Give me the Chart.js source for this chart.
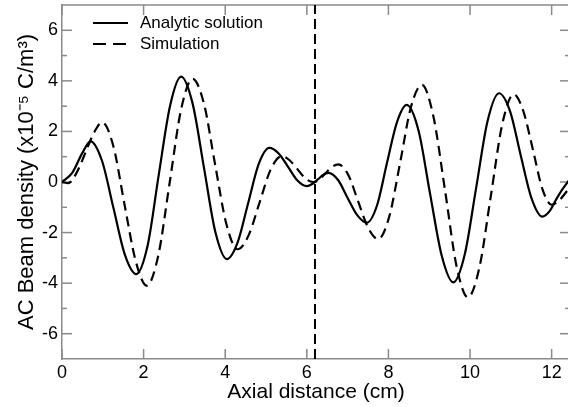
<!DOCTYPE html>
<html lang="en">
<head>
    <meta charset="UTF-8">
    <title>AC Beam density</title>
    <script src="https://cdn.jsdelivr.net/npm/chart.js"></script>
    <style>
        html, body { margin: 0; padding: 0; background: #fff; overflow: hidden; }
        #wrap { width: 574px; height: 407px; }
    </style>
</head>
<body>
    <div id="wrap"><canvas id="grafico" width="574" height="407"></canvas></div>

    <script>
        // Analytic solution (x in cm, y in 1e-5 C/m^3)
        const analyticX = [0, 0.25, 0.5, 0.70, 0.98, 1.26, 1.54, 1.82, 2.10, 2.37, 2.65, 2.92,
            3.20, 3.48, 3.76, 4.04, 4.30, 4.56, 4.82, 5.08, 5.31, 5.54, 5.77, 6.00,
            6.13, 6.27, 6.40, 6.53, 6.77, 7.00, 7.24, 7.47, 7.72, 7.96, 8.21, 8.45,
            8.74, 9.02, 9.31, 9.59, 9.87, 10.15, 10.43, 10.71, 10.98, 11.24, 11.51, 11.77,
            11.95, 12.10, 12.25, 12.45];
        const analyticY = [0, 0.36, 1.15, 1.61, 0.84, -1.02, -2.87, -3.64, -2.50, 0.27, 3.03, 4.17,
            3.11, 0.56, -1.99, -3.05, -2.41, -0.85, 0.71, 1.35, 1.13, 0.60, 0.06, -0.16,
            -0.08, 0.10, 0.28, 0.36, 0.07, -0.63, -1.32, -1.61, -0.93, 0.72, 2.37, 3.05,
            2.02, -0.46, -2.94, -3.97, -2.87, -0.23, 2.41, 3.51, 2.80, 1.07, -0.66, -1.37,
            -1.15, -0.72, -0.32, 0.12];

        // Simulation
        const simX = [0, 0.15, 0.30, 0.45, 0.62, 0.80, 0.98, 1.26, 1.53, 1.81, 2.08, 2.36, 2.64, 2.92,
            3.20, 3.48, 3.75, 4.03, 4.30, 4.57, 4.84, 5.11, 5.38, 5.57, 5.77, 5.96, 6.15,
            6.31, 6.46, 6.62, 6.77, 7.02, 7.26, 7.51, 7.75, 8.02, 8.29, 8.55, 8.82,
            9.10, 9.39, 9.67, 9.95, 10.23, 10.51, 10.79, 11.07, 11.30, 11.54, 11.77, 12.00,
            12.20, 12.45];
        const simY = [0, -0.05, 0.20, 0.68, 1.35, 2.00, 2.36, 1.41, -0.87, -3.15, -4.10, -2.90, -0.01, 2.88,
            4.08, 3.09, 0.71, -1.67, -2.66, -2.12, -0.82, 0.48, 1.02, 0.87, 0.51, 0.15, 0.00,
            0.10, 0.35, 0.60, 0.70, 0.27, -0.78, -1.83, -2.26, -1.37, 0.79, 2.95, 3.84,
            2.61, -0.36, -3.33, -4.56, -3.38, -0.55, 2.29, 3.47, 2.83, 1.29, -0.26, -0.90,
            -0.70, -0.20];

        const marcadorX = 6.2;
        const xTicks = [0, 2, 4, 6, 8, 10, 12];
        const yTicks = [-6, -4, -2, 0, 2, 4, 6];
        const yMinor = [-5, -3, -1, 1, 3, 5];

        const corEixo = '#8a8a8a';
        Chart.defaults.font.family = '"Liberation Sans", Arial, Helvetica, sans-serif';
        Chart.defaults.color = '#000';

        const pontos = (xs, ys) => xs.map((v, i) => ({ x: v, y: ys[i] }));

        function linha(ctx, x1, y1, x2, y2) {
            ctx.beginPath();
            ctx.moveTo(x1, y1);
            ctx.lineTo(x2, y2);
            ctx.stroke();
        }

        // ticks pointing inward, plus top/right frame
        const marcasInternas = {
            id: 'marcasInternas',
            beforeDatasetsDraw(chart) {
                const { ctx, chartArea: a, scales: { x, y } } = chart;
                ctx.save();
                ctx.strokeStyle = corEixo;
                ctx.lineWidth = 1.5;
                linha(ctx, a.left, a.top, a.right, a.top);
                linha(ctx, a.right, a.top, a.right, a.bottom);
                xTicks.forEach(v => {
                    const px = x.getPixelForValue(v);
                    linha(ctx, px, a.bottom, px, a.bottom - 10);
                    linha(ctx, px, a.top, px, a.top + 10);
                });
                yTicks.forEach(v => {
                    const py = y.getPixelForValue(v);
                    linha(ctx, a.left, py, a.left + 10, py);
                    linha(ctx, a.right, py, a.right - 10, py);
                });
                yMinor.forEach(v => {
                    const py = y.getPixelForValue(v);
                    linha(ctx, a.left, py, a.left + 5, py);
                    linha(ctx, a.right, py, a.right - 5, py);
                });
                ctx.restore();
            }
        };

        // legend inside the plot, top-left
        const legendaInterna = {
            id: 'legendaInterna',
            afterDraw(chart) {
                const { ctx } = chart;
                const linhas = [
                    { ds: chart.data.datasets[0], y: 23, dash: [] },
                    { ds: chart.data.datasets[1], y: 44, dash: [13, 7] }
                ];
                ctx.save();
                ctx.font = '17px "Liberation Sans", Arial, Helvetica, sans-serif';
                ctx.textBaseline = 'middle';
                ctx.fillStyle = '#000';
                linhas.forEach(l => {
                    ctx.strokeStyle = l.ds.borderColor;
                    ctx.lineWidth = l.ds.borderWidth;
                    ctx.setLineDash(l.dash);
                    linha(ctx, 93, l.y, 128, l.y);
                    ctx.setLineDash([]);
                    ctx.fillText(l.ds.label, 140, l.y);
                });
                ctx.restore();
            }
        };

        new Chart(document.getElementById('grafico').getContext('2d'), {
            type: 'line',
            data: {
                datasets: [
                    {
                        label: 'Analytic solution',
                        data: pontos(analyticX, analyticY),
                        borderColor: '#000',
                        borderWidth: 2.2,
                        pointRadius: 0,
                        cubicInterpolationMode: 'monotone',
                        fill: false
                    },
                    {
                        label: 'Simulation',
                        data: pontos(simX, simY),
                        borderColor: '#000',
                        borderWidth: 2.2,
                        borderDash: [10, 6],
                        pointRadius: 0,
                        cubicInterpolationMode: 'monotone',
                        fill: false
                    },
                    {
                        label: 'marker',
                        data: [{ x: marcadorX, y: -7 }, { x: marcadorX, y: 7 }],
                        borderColor: '#000',
                        borderWidth: 2,
                        borderDash: [10, 5],
                        pointRadius: 0,
                        tension: 0,
                        fill: false
                    }
                ]
            },
            options: {
                responsive: false,
                animation: false,
                devicePixelRatio: 1,
                layout: { padding: { top: 5, right: 4, left: 0, bottom: 0 } },
                plugins: {
                    legend: { display: false },
                    tooltip: { enabled: false }
                },
                scales: {
                    x: {
                        type: 'linear',
                        min: 0,
                        max: 12.45,
                        grid: { display: false, drawTicks: false },
                        border: { display: true, color: corEixo, width: 1.5 },
                        ticks: { font: { size: 18 }, padding: 3, maxRotation: 0 },
                        afterBuildTicks: s => { s.ticks = xTicks.map(v => ({ value: v })); },
                        afterFit: s => { s.height = 48; s.paddingLeft = 0; s.paddingRight = 0; },
                        title: {
                            display: true,
                            text: 'Axial distance (cm)',
                            font: { size: 21 },
                            padding: { top: 0, bottom: 2 }
                        }
                    },
                    y: {
                        type: 'linear',
                        min: -7,
                        max: 7,
                        grid: { display: false, drawTicks: false },
                        border: { display: true, color: corEixo, width: 1.5 },
                        ticks: { font: { size: 18 }, padding: 4 },
                        afterBuildTicks: s => { s.ticks = yTicks.map(v => ({ value: v })); },
                        afterFit: s => { s.width = 62; s.paddingTop = 0; s.paddingBottom = 0; },
                        title: {
                            display: true,
                            text: 'AC Beam density (x10\u207B\u2075 C/m\u00B3)',
                            font: { size: 22 },
                            padding: { top: 14, bottom: 0 }
                        }
                    }
                }
            },
            plugins: [marcasInternas, legendaInterna]
        });
    </script>
</body>
</html>
